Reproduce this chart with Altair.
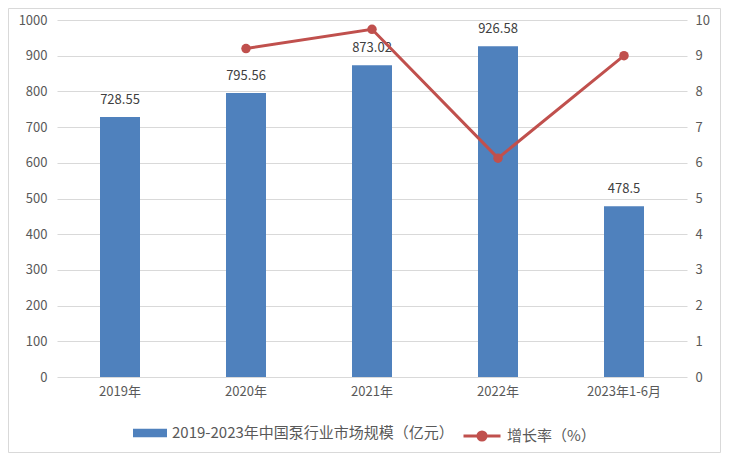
import altair as alt
import pandas as pd

categories = ["2019年", "2020年", "2021年", "2022年", "2023年1-6月"]
market_size = [728.55, 795.56, 873.02, 926.58, 478.5]
size_labels = ["728.55", "795.56", "873.02", "926.58", "478.5"]
growth = [None, 9.2, 9.74, 6.13, 9.0]
left_ticks = [0, 100, 200, 300, 400, 500, 600, 700, 800, 900, 1000]
right_ticks = [0, 1, 2, 3, 4, 5, 6, 7, 8, 9, 10]
bar_series = "2019-2023年中国泵行业市场规模（亿元）"
line_series = "增长率（%）"

FONT = "Noto Sans CJK SC"
BAR_COLOR = "#4F81BD"
LINE_COLOR = "#C0504D"
LABEL_COLOR = "#595959"

df = pd.DataFrame({
    "cat": categories,
    "size": market_size,
    "label": size_labels,
    "growth": growth,
    "bs": [bar_series] * len(categories),
    "ls": [line_series] * len(categories),
})

W, H = 630, 357
PAD = {"left": 49, "top": 12, "right": 34, "bottom": 76}

x_enc = alt.X("cat:N", sort=categories,
              scale=alt.Scale(paddingInner=0, paddingOuter=0),
              axis=alt.Axis(title=None, labelAngle=0, domain=False, ticks=False,
                            labelPadding=8, labelFontSize=13, labelColor=LABEL_COLOR,
                            labelFont=FONT))

left_axis = alt.Axis(title=None, orient="left", values=left_ticks, format="d",
                     domain=False, ticks=False,
                     labelPadding=10, labelFontSize=13, labelColor=LABEL_COLOR,
                     labelFont=FONT, grid=True, gridColor="#D9D9D9")
right_axis = alt.Axis(title=None, orient="right", values=right_ticks, format="d",
                      domain=False, ticks=False, grid=False, labelPadding=8, labelFontSize=13,
                      labelColor=LABEL_COLOR, labelFont=FONT)

y_left = alt.Y("size:Q", scale=alt.Scale(domain=[0, 1000]), axis=left_axis)
y_right = alt.Y("growth:Q", scale=alt.Scale(domain=[0, 10]), axis=right_axis)

base = alt.Chart(df)

bars = base.mark_bar(size=40).encode(
    x=x_enc,
    y=y_left,
    color=alt.Color("bs:N", scale=alt.Scale(domain=[bar_series], range=[BAR_COLOR]),
                    legend=alt.Legend(title=None, orient="none", legendX=76, legendY=396,
                                      symbolType="M-1,-0.25H1V0.25H-1Z", symbolSize=1156,
                                      symbolStrokeWidth=0, labelFontSize=15,
                                      labelColor=LABEL_COLOR, labelFont=FONT,
                                      labelLimit=0, padding=0, labelOffset=5)),
)

texts = base.mark_text(dy=-13, fontSize=13, color="#404040", font=FONT,
                       baseline="alphabetic").encode(
    x=x_enc,
    y=y_left,
    text="label:N",
)

left = alt.layer(bars, texts)

line = base.transform_filter("isValid(datum.growth)").mark_line(strokeWidth=3).encode(
    x=x_enc,
    y=y_right,
    stroke=alt.Stroke("ls:N", scale=alt.Scale(domain=[line_series], range=[LINE_COLOR]),
                      legend=alt.Legend(title=None, orient="none", legendX=405, legendY=396,
                                        symbolType="M-1,0H1M0.22,0A0.22,0.22,0,1,1,-0.22,0A0.22,0.22,0,1,1,0.22,0Z",
                                        symbolSize=1369, symbolStrokeWidth=3,
                                        symbolFillColor=LINE_COLOR, labelFontSize=15,
                                        labelColor=LABEL_COLOR, labelFont=FONT,
                                        labelLimit=0, padding=0, labelOffset=5)),
)

points = base.transform_filter("isValid(datum.growth)").mark_circle(
    size=90, color=LINE_COLOR, opacity=1).encode(
    x=x_enc,
    y=y_right,
)

right = alt.layer(line, points)

border = alt.Chart(alt.Data(values=[{"a": 1}])).mark_rect(
    fill="transparent", stroke="#D9D9D9", strokeWidth=1).encode(
    x=alt.value(-PAD["left"] + 0.5),
    x2=alt.value(W + PAD["right"] - 0.5),
    y=alt.value(-PAD["top"] + 0.5),
    y2=alt.value(H + PAD["bottom"] - 0.5),
)

chart = alt.layer(left, right, border).resolve_scale(
    y="independent", color="independent", stroke="independent"
).properties(
    width=W, height=H,
    autosize=alt.AutoSizeParams(type="none"),
    padding=PAD,
    background="white",
).configure_view(stroke=None)

chart.save("out.html", embed_options={"renderer": "svg", "actions": False})
